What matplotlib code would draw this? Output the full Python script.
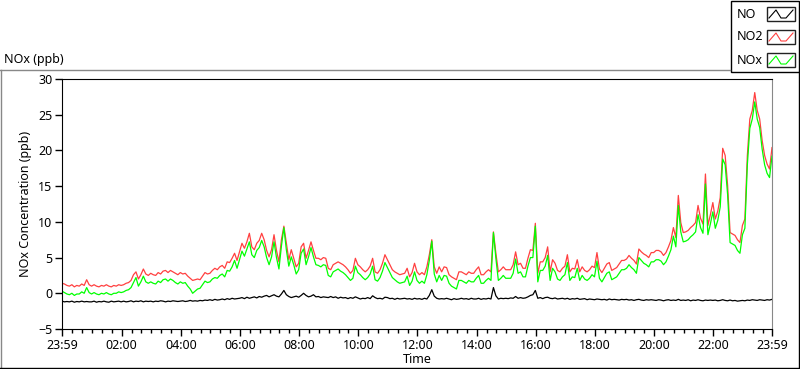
import matplotlib
matplotlib.use('Agg')
import matplotlib.pyplot as plt
from matplotlib.lines import Line2D
from matplotlib.patches import Rectangle
import numpy as np

plt.rcParams['font.family'] = ['Noto Sans', 'DejaVu Sans']

# minutes since 23:59, every 5 min
minutes = np.arange(0, 1441, 5)

# NO2 (ppb), one row per hour
no2 = [
    1.4, 1.3, 1.1, 1.0, 1.2, 0.9, 1.1, 1.0, 1.3, 1.1, 1.9, 1.2,
    1.0, 1.2, 1.0, 0.9, 1.1, 1.0, 1.2, 1.0, 0.9, 1.1, 1.0, 1.2,
    1.1, 1.2, 1.4, 1.5, 1.8, 2.6, 3.0, 2.0, 2.6, 3.4, 2.7, 2.5,
    2.8, 2.6, 2.5, 2.9, 2.7, 3.1, 3.2, 2.9, 3.2, 3.0, 2.8, 2.6,
    2.9, 2.7, 2.8, 2.4, 2.1, 1.8, 1.9, 2.0, 1.9, 2.4, 2.9, 2.7,
    2.8, 3.2, 3.5, 3.3, 3.7, 3.9, 3.5, 4.4, 4.3, 4.9, 5.6, 4.6,
    5.8, 7.0, 6.3, 7.2, 8.4, 6.5, 6.1, 7.0, 7.4, 8.4, 7.5, 6.0,
    5.1, 6.1, 8.2, 6.0, 4.4, 7.5, 9.4, 7.0, 4.7, 6.1, 4.9, 3.7,
    4.2, 6.5, 7.0, 4.9, 6.0, 7.2, 6.0, 4.9, 4.9, 4.7, 5.0, 4.9,
    3.5, 3.3, 4.0, 4.2, 4.4, 4.2, 4.0, 3.7, 3.3, 2.8, 3.2, 4.9,
    4.0, 3.7, 3.3, 3.0, 3.3, 3.8, 4.9, 3.0, 2.8, 3.3, 4.2, 5.4,
    4.7, 4.0, 3.3, 3.0, 2.8, 2.6, 2.7, 2.8, 3.5, 2.3, 2.9, 4.2,
    3.0, 2.6, 2.9, 2.6, 3.7, 5.4, 7.5, 3.7, 2.8, 3.7, 3.0, 3.7,
    3.6, 2.6, 2.3, 2.1, 1.9, 3.0, 3.0, 2.8, 2.6, 3.0, 2.8, 2.8,
    3.3, 3.7, 2.6, 2.6, 3.0, 3.3, 3.0, 8.6, 5.6, 3.0, 3.3, 3.7,
    3.3, 3.3, 3.3, 4.0, 5.8, 4.0, 4.2, 3.5, 3.5, 4.9, 6.1, 6.0,
    9.8, 2.8, 4.4, 4.4, 5.0, 6.5, 3.0, 4.7, 4.2, 3.2, 3.0, 3.5,
    3.8, 5.4, 3.0, 3.5, 3.4, 4.7, 3.0, 3.7, 3.2, 3.0, 3.3, 3.8,
    3.6, 5.7, 3.4, 2.9, 3.5, 4.1, 4.3, 3.2, 3.4, 3.6, 4.1, 4.6,
    4.6, 4.8, 5.3, 4.9, 4.6, 4.1, 6.2, 5.8, 5.5, 5.3, 5.0, 5.7,
    5.7, 6.0, 6.0, 5.8, 5.3, 5.7, 6.5, 7.4, 9.2, 7.8, 13.7, 9.9,
    8.5, 8.6, 8.8, 9.2, 9.5, 9.9, 12.3, 10.5, 9.7, 16.7, 9.5, 11.0,
    12.7, 10.4, 11.5, 13.4, 20.3, 19.3, 15.1, 8.5, 8.3, 8.1, 7.5, 7.1,
    9.5, 10.4, 19.3, 24.4, 25.6, 28.1, 25.6, 24.4, 21.4, 19.3, 18.1, 17.4,
    20.4,
]

# NOx (ppb)
nox = [
    0.3, 0.1, -0.1, -0.2, 0.0, -0.3, -0.1, -0.1, 0.2, 0.0, 0.8, 0.1,
    -0.1, 0.1, -0.1, -0.2, 0.0, -0.1, 0.1, -0.1, -0.2, 0.0, 0.0, 0.2,
    0.1, 0.2, 0.4, 0.5, 0.8, 1.5, 2.2, 1.0, 1.6, 2.4, 1.6, 1.4,
    1.6, 1.4, 1.3, 1.7, 1.5, 1.9, 2.0, 1.7, 2.0, 1.8, 1.5, 1.3,
    1.6, 1.4, 1.5, 1.0, 0.6, 0.0, 0.3, 0.6, 0.7, 1.2, 1.7, 1.5,
    1.6, 2.0, 2.2, 2.1, 2.5, 2.7, 2.3, 3.2, 3.1, 3.7, 4.6, 3.5,
    4.7, 5.9, 5.2, 6.2, 7.2, 5.4, 5.0, 6.0, 6.4, 7.4, 6.5, 5.0,
    4.0, 5.1, 7.2, 5.0, 3.4, 6.6, 9.2, 6.1, 3.8, 5.1, 4.0, 2.7,
    3.3, 5.6, 6.2, 4.0, 5.1, 6.4, 5.1, 4.0, 3.9, 3.7, 4.0, 3.9,
    2.5, 2.3, 3.0, 3.2, 3.4, 3.1, 2.9, 2.6, 2.2, 1.8, 2.1, 3.8,
    2.9, 2.6, 2.2, 1.9, 2.2, 2.7, 3.8, 1.9, 1.7, 2.2, 3.1, 4.3,
    3.6, 2.9, 2.2, 1.9, 1.6, 1.4, 1.5, 1.6, 2.4, 1.1, 1.7, 3.0,
    1.8, 1.4, 1.7, 1.4, 2.6, 4.6, 7.3, 2.7, 1.6, 2.5, 1.8, 2.5,
    2.4, 1.4, 1.0, 0.8, 0.6, 1.8, 1.8, 1.6, 1.4, 1.8, 1.6, 1.6,
    2.1, 2.5, 1.4, 1.4, 1.8, 2.1, 1.8, 8.5, 4.9, 1.8, 2.1, 2.5,
    2.1, 2.1, 2.1, 2.8, 4.8, 2.8, 3.0, 2.3, 2.3, 3.8, 5.0, 5.0,
    9.4, 1.6, 3.2, 3.2, 3.8, 5.3, 1.8, 3.5, 3.0, 2.0, 1.8, 2.3,
    2.6, 4.3, 1.8, 2.3, 2.2, 3.5, 1.8, 2.5, 2.0, 1.8, 2.1, 2.6,
    2.3, 4.5, 2.1, 1.6, 2.2, 2.8, 3.0, 1.9, 2.1, 2.3, 2.8, 3.3,
    3.3, 3.5, 4.0, 3.6, 3.3, 2.8, 5.0, 4.6, 4.2, 4.0, 3.7, 4.4,
    4.4, 4.7, 4.7, 4.5, 4.0, 4.4, 5.2, 6.1, 8.0, 6.5, 12.3, 8.6,
    7.2, 7.3, 7.5, 7.9, 8.2, 8.6, 11.0, 9.2, 8.4, 15.3, 8.2, 9.7,
    11.4, 9.1, 10.2, 12.1, 18.8, 18.0, 13.8, 7.1, 6.9, 6.7, 6.0, 5.6,
    8.2, 9.1, 18.0, 23.1, 24.4, 26.8, 24.4, 23.2, 20.2, 18.0, 16.8, 16.2,
    19.2,
]

# NO (ppb)
no = [
    -1.1, -1.2, -1.15, -1.2, -1.1, -1.25, -1.15, -1.2, -1.1, -1.2, -1.15, -1.2,
    -1.2, -1.1, -1.25, -1.15, -1.2, -1.1, -1.2, -1.25, -1.1, -1.2, -1.15, -1.1,
    -1.2, -1.1, -1.2, -1.15, -1.05, -1.2, -1.1, -1.15, -1.05, -1.2, -1.1, -1.15,
    -1.1, -1.2, -1.1, -1.15, -1.05, -1.1, -1.2, -1.1, -1.15, -1.05, -1.1, -1.15,
    -1.1, -1.05, -1.15, -1.1, -1.0, -1.1, -1.05, -1.1, -1.0, -1.05, -0.95, -1.0,
    -0.9, -1.0, -0.85, -0.95, -0.9, -0.8, -0.9, -0.75, -0.85, -0.7, -0.8, -0.75,
    -0.7, -0.6, -0.75, -0.55, -0.7, -0.6, -0.5, -0.65, -0.45, -0.55, -0.4, -0.3,
    -0.5, -0.35, -0.2, -0.4, -0.5, -0.1, 0.4, -0.2, -0.45, -0.6, -0.5, -0.4,
    -0.55, -0.3, 0.0, -0.3, -0.5, -0.4, -0.2, -0.5, -0.45, -0.6, -0.5, -0.55,
    -0.6, -0.45, -0.6, -0.5, -0.7, -0.55, -0.65, -0.6, -0.75, -0.6, -0.7, -0.5,
    -0.65, -0.8, -0.7, -0.75, -0.6, -0.75, -0.35, -0.6, -0.75, -0.7, -0.8, -0.55,
    -0.6, -0.75, -0.7, -0.85, -0.7, -0.8, -0.75, -0.7, -0.8, -0.75, -0.85, -0.7,
    -0.8, -0.75, -0.85, -0.7, -0.8, -0.3, 0.5, -0.4, -0.7, -0.8, -0.75, -0.8,
    -0.7, -0.8, -0.9, -0.75, -0.85, -0.8, -0.7, -0.8, -0.75, -0.85, -0.7, -0.8,
    -0.8, -0.7, -0.85, -0.75, -0.8, -0.7, -0.8, 0.8, -0.35, -0.8, -0.7, -0.75,
    -0.7, -0.75, -0.65, -0.7, -0.45, -0.7, -0.6, -0.7, -0.65, -0.5, -0.3, -0.2,
    0.4, -0.7, -0.6, -0.75, -0.6, -0.55, -0.7, -0.75, -0.65, -0.8, -0.75, -0.7,
    -0.8, -0.7, -0.85, -0.75, -0.8, -0.7, -0.85, -0.8, -0.75, -0.9, -0.8, -0.85,
    -0.9, -0.8, -0.85, -0.9, -0.85, -0.95, -0.8, -0.9, -0.85, -0.9, -0.95, -0.85,
    -0.9, -0.85, -0.95, -0.9, -1.0, -0.9, -0.85, -0.95, -1.0, -0.9, -0.95, -0.9,
    -0.95, -1.0, -0.9, -0.95, -1.05, -0.95, -0.9, -1.0, -0.95, -1.0, -0.85, -1.0,
    -0.95, -1.0, -0.9, -1.05, -0.95, -1.0, -0.9, -1.0, -1.05, -0.95, -1.0, -0.95,
    -1.0, -0.95, -1.05, -1.0, -0.9, -1.0, -1.05, -0.95, -1.05, -1.0, -1.1, -1.05,
    -1.0, -1.05, -0.95, -1.0, -0.9, -0.95, -1.0, -0.9, -0.95, -1.0, -0.9, -0.95,
    -0.85,
]

tick_pos = [0, 121, 241, 361, 481, 601, 721, 841, 961, 1081, 1201, 1321, 1440]
tick_labels = ['23:59', '02:00', '04:00', '06:00', '08:00', '10:00', '12:00',
               '14:00', '16:00', '18:00', '20:00', '22:00', '23:59']
minor_pos = [1 + 20 * k for k in range(1, 72) if k % 6 != 0]

series_names = ['NO', 'NO2', 'NOx']
series_colors = ['black', '#ff4040', '#00ff00']

W, H = 800, 369
fig = plt.figure(figsize=(8, 3.69), dpi=100)

def px(x0, y0, x1, y1):
    # pixel box (from top-left) -> figure rect
    return [x0 / W, 1 - y1 / H, (x1 - x0) / W, (y1 - y0) / H]

ax = fig.add_axes(px(62, 79, 772, 329))
for vals, c in zip([no, no2, nox], series_colors):
    ax.plot(minutes, vals, color=c, lw=0.9)

ax.set_xlim(0, 1440)
ax.set_ylim(-5, 30)
ax.set_yticks([-5, 0, 5, 10, 15, 20, 25, 30])
ax.set_xticks(tick_pos)
ax.set_xticklabels(tick_labels)
ax.set_xticks(minor_pos, minor=True)
ax.tick_params(axis='both', which='major', direction='out', length=5, width=1,
               labelsize=9, pad=2)
ax.tick_params(axis='x', which='minor', direction='out', length=3, width=1)
ax.spines['right'].set_color('#888888')
for s in ['left', 'top', 'bottom']:
    ax.spines[s].set_color('black')
ax.set_xlabel('Time', fontsize=9, labelpad=1)
ax.set_ylabel('NOx Concentration (ppb)', fontsize=9, labelpad=4)

# outer recessed frame
fig.add_artist(Line2D([0.5 / W, 0.5 / W], [1 - 69.5 / H, 1 - 368 / H], color='#888888', lw=1))
fig.add_artist(Line2D([0, 730 / W], [1 - 69.5 / H, 1 - 69.5 / H], color='#888888', lw=1))
fig.add_artist(Line2D([0, 1], [1 - 367.5 / H, 1 - 367.5 / H], color='black', lw=1))
fig.add_artist(Line2D([798.5 / W, 798.5 / W], [1 - 72 / H, 1 - 368 / H], color='black', lw=1))
fig.text(4 / W, 1 - 59 / H, 'NOx (ppb)', fontsize=9, va='center', ha='left')

# legend panel
fig.add_artist(Rectangle((730.5 / W, 1 - 72 / H), 68 / W, 71.5 / H, transform=fig.transFigure,
                         facecolor='white', edgecolor='black', lw=1))
for i, (name, c) in enumerate(zip(series_names, series_colors)):
    yc = 14 + 23 * i
    fig.text(737 / W, 1 - yc / H, name, fontsize=9, va='center', ha='left')
    fig.add_artist(Rectangle((767 / W, 1 - (yc + 7) / H), 28 / W, 14 / H, transform=fig.transFigure,
                             facecolor='white', edgecolor='#222222', lw=1))
    fig.add_artist(Line2D([769 / W, 776 / W, 781 / W, 786 / W, 793 / W],
                          [1 - (yc + 4) / H, 1 - (yc - 4) / H, 1 - (yc + 4) / H,
                           1 - (yc + 4) / H, 1 - (yc - 4) / H],
                          color=c, lw=0.8))

fig.savefig('out.png', dpi=100)
